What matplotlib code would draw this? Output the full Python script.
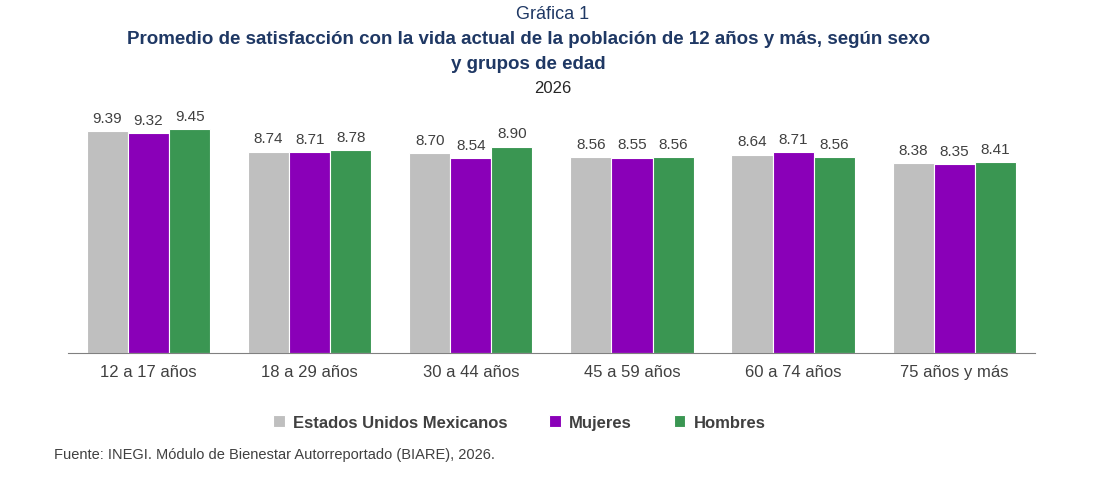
import matplotlib.pyplot as plt
import numpy as np

grupos = ['12 a 17 años', '18 a 29 años', '30 a 44 años', '45 a 59 años', '60 a 74 años', '75 años y más']
total = [9.39, 8.74, 8.70, 8.56, 8.64, 8.38]
mujeres = [9.32, 8.71, 8.54, 8.55, 8.71, 8.35]
hombres = [9.45, 8.78, 8.90, 8.56, 8.56, 8.41]

plt.rcParams['font.family'] = ['Liberation Sans', 'DejaVu Sans']
fig = plt.figure(figsize=(11.05, 4.85), dpi=100)
ax = fig.add_axes([0.0615, 0.27, 0.875, 0.52])

x = np.arange(len(grupos))
w = 0.255
base = 2.34
series = [(total, '#bfbfbf', 'Estados Unidos Mexicanos'),
          (mujeres, '#8a00b8', 'Mujeres'),
          (hombres, '#3a9652', 'Hombres')]
for k, (vals, col, lab) in enumerate(series):
    pos = x + (k - 1) * w
    ax.bar(pos, np.array(vals) - base, w, bottom=base, color=col, label=lab,
           edgecolor='white', linewidth=0.8)
    for p, v in zip(pos, vals):
        ax.text(p, v + 0.2, f'{v:.2f}', ha='center', va='bottom', fontsize=11, color='#404040')

ax.set_ylim(base, 10.35)
ax.set_xlim(-0.5, len(grupos) - 0.5)
ax.set_yticks([])
ax.set_xticks(x)
ax.set_xticklabels(grupos, fontsize=12, color='#404040')
ax.tick_params(axis='x', length=0, pad=8)
for s in ['top', 'right', 'left']:
    ax.spines[s].set_visible(False)
ax.spines['bottom'].set_color('#808080')

leg = fig.legend(loc='center', bbox_to_anchor=(0.47, 0.127), ncol=3, frameon=False,
                 handlelength=0.7, handleheight=0.7, columnspacing=2.5, handletextpad=0.5,
                 prop={'size': 12, 'weight': 'bold'})
for t in leg.get_texts():
    t.set_color('#404040')

fig.text(0.5, 0.97, 'Gráfica 1', ha='center', va='center', fontsize=13, color='#1f3864')
fig.text(0.478, 0.918, 'Promedio de satisfacción con la vida actual de la población de 12 años y más, según sexo',
         ha='center', va='center', fontsize=13.5, weight='bold', color='#1f3864')
fig.text(0.478, 0.868, 'y grupos de edad', ha='center', va='center', fontsize=13.5, weight='bold', color='#1f3864')
fig.text(0.5, 0.818, '2026', ha='center', va='center', fontsize=12, color='#262626')
fig.text(0.049, 0.062, 'Fuente: INEGI. Módulo de Bienestar Autorreportado (BIARE), 2026.',
         ha='left', va='center', fontsize=10.5, color='#404040')

fig.savefig('out.png', dpi=100)
